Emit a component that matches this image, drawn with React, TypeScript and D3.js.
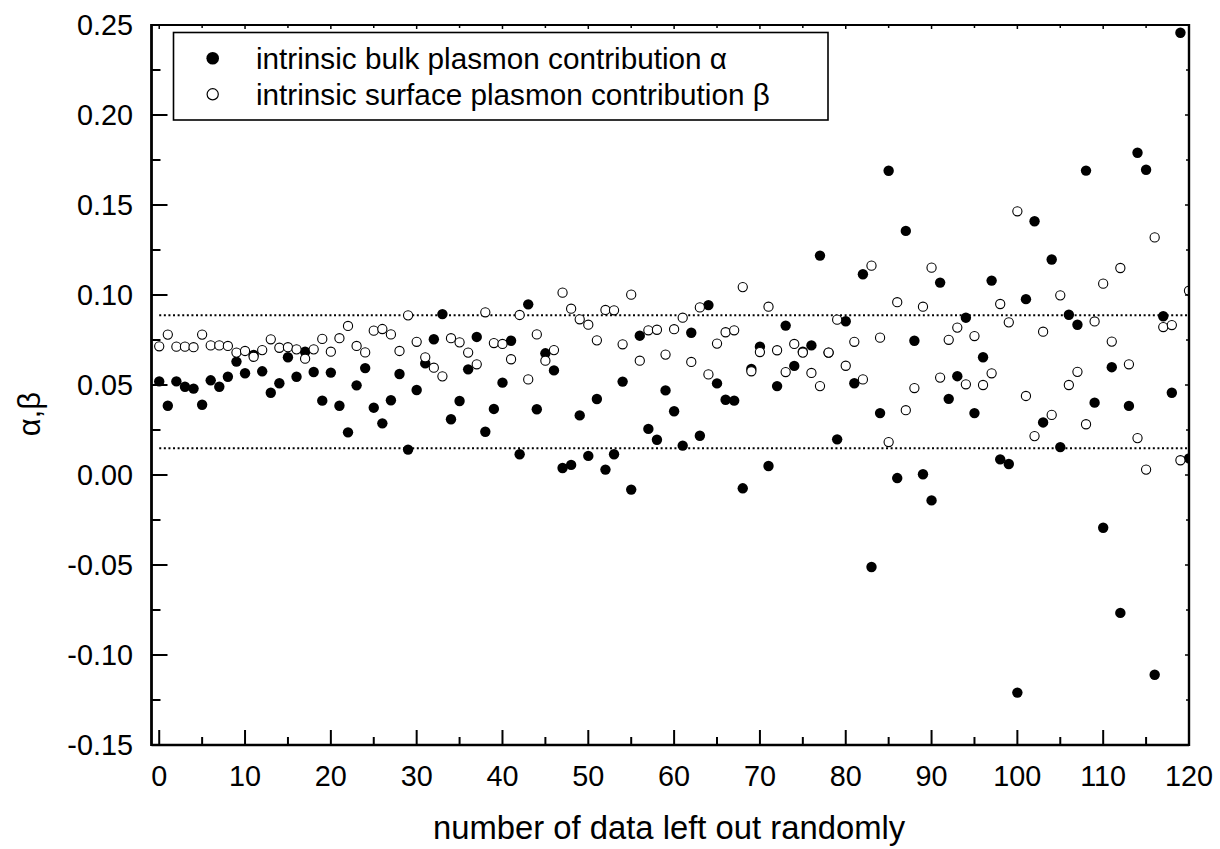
import React from "react";
import * as d3 from "d3";

const alphaBulk: number[] = [
  0.052, 0.0385, 0.052, 0.049, 0.048, 0.039, 0.0526, 0.049, 0.0546, 0.063,
  0.0565, 0.0667, 0.0576, 0.0457, 0.051, 0.0654, 0.0546, 0.0685, 0.0572, 0.0413,
  0.0569, 0.0385, 0.0237, 0.0498, 0.0594, 0.0374, 0.0287, 0.0415, 0.0561, 0.0141,
  0.0472, 0.062, 0.0754, 0.0894, 0.031, 0.0411, 0.0587, 0.0767, 0.024, 0.0367,
  0.0513, 0.0746, 0.0115, 0.0948, 0.0365, 0.0676, 0.0581, 0.0039, 0.0056, 0.0331,
  0.0106, 0.0422, 0.003, 0.0115, 0.0519, -0.0081, 0.0774, 0.0256, 0.0196, 0.047,
  0.0354, 0.0163, 0.079, 0.0218, 0.0944, 0.0509, 0.0418, 0.0413, -0.0074, 0.0589,
  0.0713, 0.005, 0.0494, 0.083, 0.0606, 0.0685, 0.072, 0.1219, 0.068, 0.0198,
  0.0854, 0.051, 0.1115, -0.0511, 0.0344, 0.169, -0.0017, 0.1356, 0.0746, 0.0004,
  -0.0141, 0.1069, 0.0423, 0.0549, 0.0874, 0.0344, 0.0654, 0.108, 0.0087, 0.0061,
  -0.1209, 0.0977, 0.141, 0.0292, 0.1197, 0.0155, 0.089, 0.0835, 0.1691, 0.0402,
  -0.0293, 0.0599, -0.0766, 0.0384, 0.179, 0.1696, -0.111, 0.0882, 0.0457, 0.2457,
  0.0092,
];

const betaSurface: number[] = [
  0.0715, 0.078, 0.0713, 0.0713, 0.071, 0.078, 0.072, 0.072, 0.0717, 0.068,
  0.0689, 0.0657, 0.0694, 0.0754, 0.0707, 0.071, 0.0698, 0.0646, 0.0698, 0.0756,
  0.0685, 0.076, 0.0828, 0.0717, 0.0681, 0.0802, 0.0811, 0.0781, 0.0689, 0.0887,
  0.074, 0.0654, 0.0596, 0.0548, 0.076, 0.0737, 0.068, 0.0615, 0.0904, 0.0733,
  0.0728, 0.0643, 0.0889, 0.0531, 0.0781, 0.0635, 0.0694, 0.1013, 0.0924, 0.0865,
  0.0835, 0.0748, 0.0917, 0.0915, 0.0726, 0.1002, 0.0635, 0.0804, 0.0807, 0.0669,
  0.081, 0.0874, 0.0628, 0.0931, 0.0559, 0.073, 0.0793, 0.0804, 0.1044, 0.0576,
  0.0683, 0.0935, 0.0693, 0.0572, 0.0728, 0.068, 0.0567, 0.0494, 0.068, 0.0863,
  0.0607, 0.074, 0.0531, 0.1163, 0.0763, 0.0183, 0.096, 0.036, 0.0483, 0.0935,
  0.1152, 0.0541, 0.0751, 0.0819, 0.0504, 0.0772, 0.05, 0.0565, 0.095, 0.0848,
  0.1465, 0.0439, 0.0216, 0.0796, 0.0334, 0.0998, 0.05, 0.0573, 0.0282, 0.0853,
  0.1063, 0.0741, 0.115, 0.0615, 0.0205, 0.003, 0.132, 0.0822, 0.0833, 0.0082,
  0.1024,
];

const refLines: number[] = [0.0887, 0.0148];
const xMajorTicks: number[] = [0, 10, 20, 30, 40, 50, 60, 70, 80, 90, 100, 110, 120];
const yMajorTicks: number[] = [-0.15, -0.1, -0.05, 0, 0.05, 0.1, 0.15, 0.2, 0.25];
const legendLabels: string[] = [
  "intrinsic bulk plasmon contribution α",
  "intrinsic surface plasmon contribution β",
];
const xTitle = "number of data left out randomly";
const yTitle = "α,β";

const W = 1220;
const H = 849;
const L = 151.5;
const R = 1189;
const T = 25;
const B = 745;
const FONT = "'Liberation Sans', Arial, Helvetica, sans-serif";

export default function App() {
  const x = d3.scaleLinear().domain([-0.9, 120]).range([L, R]);
  const y = d3.scaleLinear().domain([-0.15, 0.25]).range([B, T]);
  const idx = d3.range(alphaBulk.length);
  const xMinor = d3.range(0, 121, 5).filter((v) => v % 10 !== 0);
  const yMinor = d3.range(-0.125, 0.25, 0.05);
  const yFmt = (v: number) => {
    const s = Math.abs(v).toFixed(2);
    return v < -1e-9 ? "-" + s : s;
  };

  return (
    <svg
      width={W}
      height={H}
      style={{ position: "absolute", left: 0, top: 0, background: "#fff" }}
      fontFamily={FONT}
    >
      <defs>
        <clipPath id="plotclip">
          <rect x={L} y={T} width={R - L} height={B - T} />
        </clipPath>
      </defs>
      <rect x={0} y={0} width={W} height={H} fill="#fff" />

      {refLines.map((v, i) => (
        <line
          key={"ref" + i}
          x1={x(0)}
          x2={R}
          y1={y(v)}
          y2={y(v)}
          stroke="#000"
          strokeWidth={2}
          strokeDasharray="2,2.6"
        />
      ))}

      <g clipPath="url(#plotclip)">
        {idx.map((i) => (
          <circle key={"a" + i} cx={x(i)} cy={y(alphaBulk[i])} r={5.2} fill="#000" />
        ))}
        {idx.map((i) => (
          <circle
            key={"b" + i}
            cx={x(i)}
            cy={y(betaSurface[i])}
            r={4.6}
            fill="#fff"
            stroke="#000"
            strokeWidth={1.1}
          />
        ))}
      </g>

      {xMajorTicks.map((v) => (
        <g key={"xt" + v}>
          <line x1={x(v)} x2={x(v)} y1={B} y2={B - 15} stroke="#000" strokeWidth={2} />
          <line x1={x(v)} x2={x(v)} y1={T} y2={T + 4} stroke="#000" strokeWidth={1.5} />
          <text x={x(v)} y={786} textAnchor="middle" fontSize={28.8}>
            {v}
          </text>
        </g>
      ))}
      {xMinor.map((v) => (
        <g key={"xm" + v}>
          <line x1={x(v)} x2={x(v)} y1={B} y2={B - 8} stroke="#000" strokeWidth={2} />
          <line x1={x(v)} x2={x(v)} y1={T} y2={T + 3} stroke="#000" strokeWidth={1.5} />
        </g>
      ))}

      {yMajorTicks.map((v) => (
        <g key={"yt" + v}>
          <line x1={L} x2={L + 16} y1={y(v)} y2={y(v)} stroke="#000" strokeWidth={2} />
          <line x1={R} x2={R - 4} y1={y(v)} y2={y(v)} stroke="#000" strokeWidth={1.5} />
          <text x={133} y={y(v)} dy="0.36em" textAnchor="end" fontSize={28.8}>
            {yFmt(v)}
          </text>
        </g>
      ))}
      {yMinor.map((v) => (
        <g key={"ym" + v}>
          <line x1={L} x2={L + 9} y1={y(v)} y2={y(v)} stroke="#000" strokeWidth={2} />
          <line x1={R} x2={R - 3} y1={y(v)} y2={y(v)} stroke="#000" strokeWidth={1.5} />
        </g>
      ))}

      <line x1={L} x2={R} y1={T} y2={T} stroke="#000" strokeWidth={2} />
      <line x1={L} x2={R} y1={B} y2={B} stroke="#000" strokeWidth={2.6} />
      <line x1={L} x2={L} y1={T - 1} y2={B + 1} stroke="#000" strokeWidth={2.8} />
      <line x1={R} x2={R} y1={T - 1} y2={B + 1} stroke="#000" strokeWidth={2.4} />

      <rect x={173.5} y={32.5} width={654.5} height={87.5} fill="#fff" stroke="#000" strokeWidth={1.6} />
      <circle cx={212.7} cy={58.3} r={6.3} fill="#000" />
      <circle cx={212.7} cy={94.3} r={5.6} fill="#fff" stroke="#000" strokeWidth={1.2} />
      <text x={256} y={58.3} dy="0.36em" fontSize={29.7}>
        {legendLabels[0]}
      </text>
      <text x={256} y={94.3} dy="0.36em" fontSize={29.7}>
        {legendLabels[1]}
      </text>

      <text x={433} y={839} fontSize={32.8}>
        {xTitle}
      </text>
      <text transform={`translate(40,414) rotate(-90)`} textAnchor="middle" fontSize={31}>
        {yTitle}
      </text>
    </svg>
  );
}
